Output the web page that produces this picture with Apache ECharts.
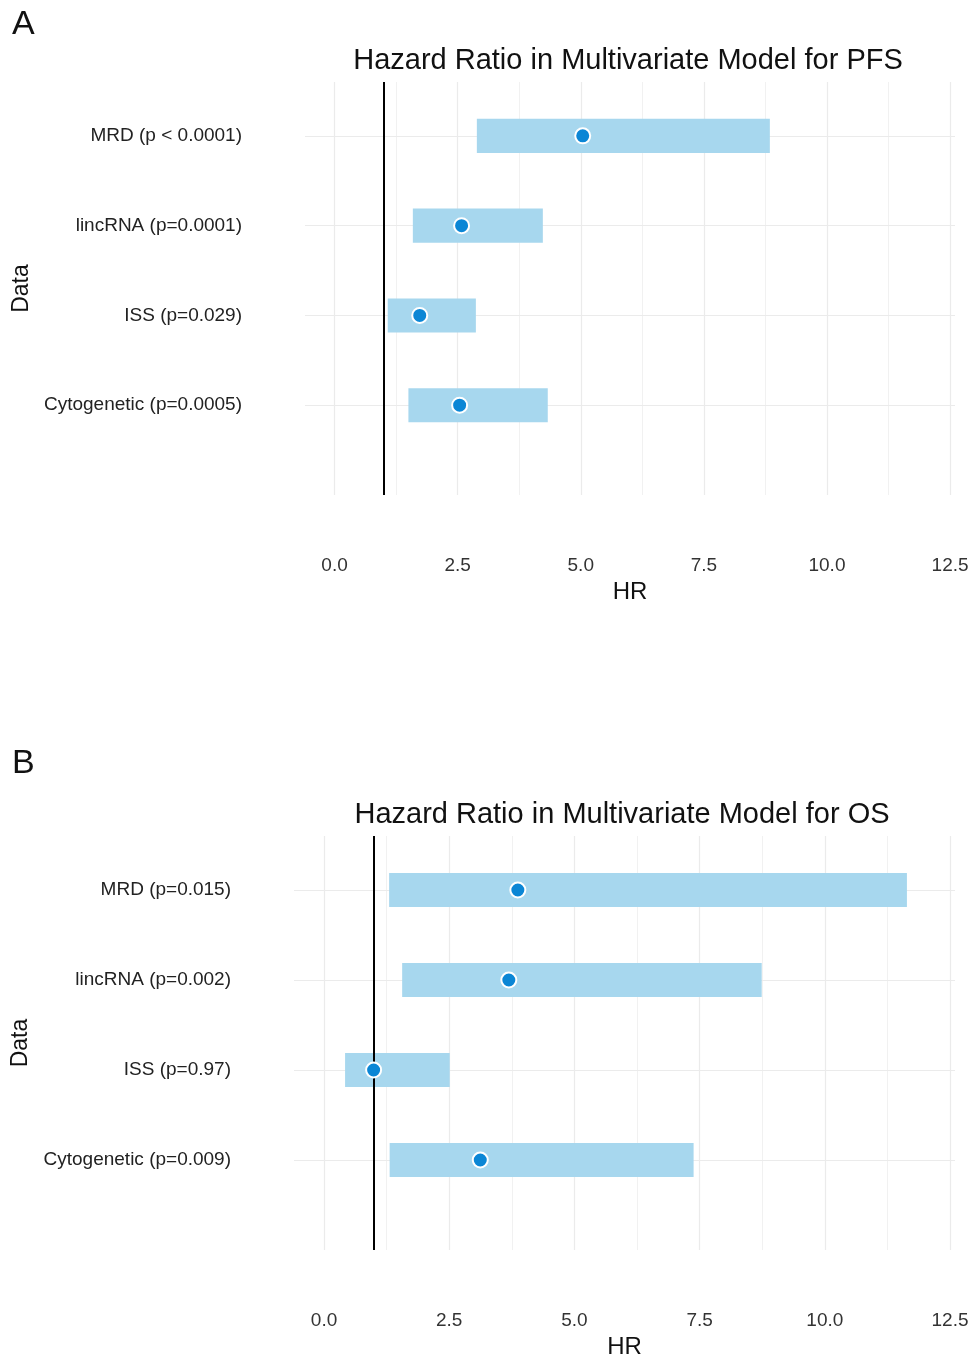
<!DOCTYPE html>
<html>
<head>
<meta charset="utf-8">
<script src="https://cdn.jsdelivr.net/npm/echarts@6/dist/echarts.min.js"></script>
<style>
  html, body { margin: 0; padding: 0; background: #ffffff; }
  #chart { width: 974px; height: 1361px; }
</style>
</head>
<body>
<div id="chart"></div>
<script>
// Forest plots of multivariate Cox hazard ratios (PFS and OS)
const pfsLabels = ['MRD (p < 0.0001)', 'lincRNA (p=0.0001)', 'ISS (p=0.029)', 'Cytogenetic (p=0.0005)'];
const pfsHR     = [5.04, 2.58, 1.73, 2.54];
const pfsLower  = [2.89, 1.59, 1.08, 1.50];
const pfsUpper  = [8.84, 4.23, 2.87, 4.33];

const osLabels = ['MRD (p=0.015)', 'lincRNA (p=0.002)', 'ISS (p=0.97)', 'Cytogenetic (p=0.009)'];
const osHR     = [3.87, 3.69, 0.99, 3.12];
const osLower  = [1.30, 1.56, 0.42, 1.31];
const osUpper  = [11.64, 8.74, 2.51, 7.38];

const xTicks      = [0, 2.5, 5, 7.5, 10, 12.5];
const xMinorTicks = [1.25, 3.75, 6.25, 8.75, 11.25];
const refLine     = 1;

const FONT = '"Liberation Sans", Arial, Helvetica, sans-serif';
const BAR_COLOR = '#a7d7ee';
const DOT_COLOR = '#0b86d5';

// rows are stacked top-down: first label on top
const rowPos = labels => labels.map((_, i) => labels.length - i);

function axesFor(idx, labels, nameGapY) {
  const pos = rowPos(labels);
  const x = {
    type: 'value', gridIndex: idx, min: -0.6, max: 12.6,
    axisLine: { show: false }, axisTick: { show: false }, splitLine: { show: false },
    axisLabel: {
      customValues: xTicks, margin: 61, color: '#333', fontSize: 19, fontFamily: FONT,
      formatter: v => v.toFixed(1)
    },
    name: 'HR', nameLocation: 'middle', nameGap: 85,
    nameTextStyle: { color: '#111', fontSize: 24, fontFamily: FONT }
  };
  const y = {
    type: 'value', gridIndex: idx, min: 0, max: labels.length + 0.6,
    axisLine: { show: false }, axisTick: { show: false }, splitLine: { show: false },
    axisLabel: {
      customValues: pos, margin: 63, color: '#222', fontSize: 19, fontFamily: FONT,
      formatter: v => labels[labels.length - Math.round(v)] || ''
    },
    name: 'Data', nameLocation: 'middle', nameGap: nameGapY, nameRotate: 90,
    nameTextStyle: { color: '#111', fontSize: 23, fontFamily: FONT }
  };
  return { x, y };
}

function seriesFor(idx, labels, hr, lower, upper) {
  const pos = rowPos(labels);
  const gridLines = [];
  xTicks.forEach(v => gridLines.push({ xAxis: v, lineStyle: { color: '#ebebeb', width: 1.2 } }));
  xMinorTicks.forEach(v => gridLines.push({ xAxis: v, lineStyle: { color: '#f1f1f1', width: 1 } }));
  pos.forEach(v => gridLines.push({ yAxis: v, lineStyle: { color: '#ebebeb', width: 1.2 } }));

  return [
    {
      type: 'custom', xAxisIndex: idx, yAxisIndex: idx, z: 2, silent: true,
      data: pos.map((p, i) => [lower[i], upper[i], p]),
      encode: { x: [0, 1], y: 2 },
      renderItem: (params, api) => {
        const a = api.coord([api.value(0), api.value(2)]);
        const b = api.coord([api.value(1), api.value(2)]);
        const h = api.size([0, 0.38])[1];
        return {
          type: 'rect',
          shape: { x: a[0], y: a[1] - h / 2, width: b[0] - a[0], height: h },
          style: { fill: BAR_COLOR }
        };
      },
      markLine: {
        silent: true, z: 1, symbol: 'none', label: { show: false },
        lineStyle: { type: 'solid' }, animation: false,
        data: gridLines
      }
    },
    {
      type: 'scatter', xAxisIndex: idx, yAxisIndex: idx, z: 4, silent: true,
      data: pos.map((p, i) => [hr[i], p]),
      symbol: 'circle', symbolSize: 15,
      itemStyle: { color: DOT_COLOR, borderColor: '#ffffff', borderWidth: 2, opacity: 1 },
      markLine: {
        silent: true, z: 3, symbol: 'none', label: { show: false }, animation: false,
        lineStyle: { type: 'solid', color: '#000', width: 2 },
        data: [{ xAxis: refLine }]
      }
    }
  ];
}

const a = axesFor(0, pfsLabels, 270);
const b = axesFor(1, osLabels, 259);

const titleStyle = { fontSize: 29, fontWeight: 'normal', color: '#111', fontFamily: FONT };
const panelStyle = { fontSize: 34, fontWeight: 'normal', color: '#111', fontFamily: FONT };

const chart = echarts.init(document.getElementById('chart'), null, { renderer: 'canvas' });
chart.setOption({
  animation: false,
  backgroundColor: '#ffffff',
  textStyle: { fontFamily: FONT },
  title: [
    { text: 'A', left: 7, top: 3, textStyle: panelStyle },
    { text: 'Hazard Ratio in Multivariate Model for PFS', left: 623, top: 41, textAlign: 'center', textStyle: titleStyle },
    { text: 'B', left: 7, top: 742, textStyle: panelStyle },
    { text: 'Hazard Ratio in Multivariate Model for OS', left: 617, top: 795, textAlign: 'center', textStyle: titleStyle }
  ],
  grid: [
    { left: 305, top: 82, width: 650, height: 413, outerBoundsMode: 'none' },
    { left: 294, top: 836, width: 661, height: 414, outerBoundsMode: 'none' }
  ],
  xAxis: [a.x, b.x],
  yAxis: [a.y, b.y],
  series: [
    ...seriesFor(0, pfsLabels, pfsHR, pfsLower, pfsUpper),
    ...seriesFor(1, osLabels, osHR, osLower, osUpper)
  ]
});
</script>
</body>
</html>
